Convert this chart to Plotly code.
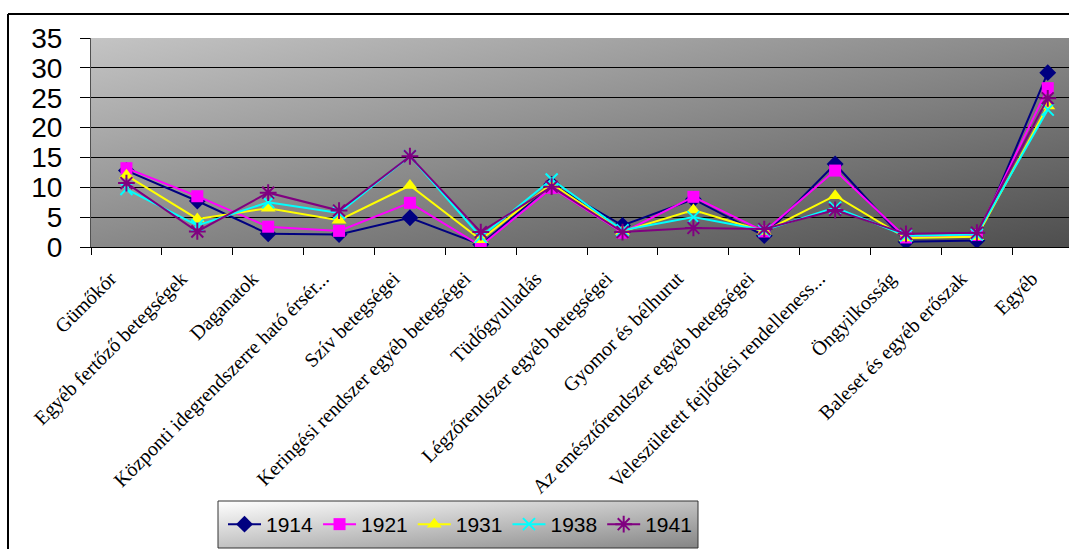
import base64
import plotly.graph_objects as go

# Causes of death (share, %) by year
categories = [
    "Gümőkór",
    "Egyéb fertőző betegségek",
    "Daganatok",
    "Központi idegrendszerre ható érsér...",
    "Szív betegségei",
    "Keringési rendszer egyéb betegségei",
    "Tüdőgyulladás",
    "Légzőrendszer egyéb betegségei",
    "Gyomor és bélhurut",
    "Az emésztőrendszer egyéb betegségei",
    "Veleszületett fejlődési rendelleness...",
    "Öngyilkosság",
    "Baleset és egyéb erőszak",
    "Egyéb",
]

years = ["1914", "1921", "1931", "1938", "1941"]

v1914 = [12.8, 7.7, 2.2, 2.1, 4.9, 0.4, 10.5, 3.6, 8.0, 1.9, 13.9, 0.9, 1.1, 29.2]
v1921 = [13.2, 8.5, 3.4, 2.7, 7.4, 0.2, 9.9, 2.4, 8.4, 2.6, 12.8, 1.6, 2.0, 26.6]
v1931 = [12.0, 4.7, 6.5, 4.5, 10.3, 1.2, 10.6, 2.6, 6.2, 2.6, 8.6, 1.5, 1.7, 23.6]
v1938 = [9.7, 3.6, 7.5, 5.7, 15.2, 1.7, 11.3, 2.8, 5.0, 2.8, 6.6, 1.9, 2.1, 23.0]
v1941 = [10.7, 2.6, 9.1, 6.1, 15.2, 2.5, 10.1, 2.5, 3.2, 3.0, 6.2, 2.2, 2.4, 24.9]

y_ticks = [0, 5, 10, 15, 20, 25, 30, 35]

series = [v1914, v1921, v1931, v1938, v1941]
colors = ["#000080", "#FF00FF", "#FFFF00", "#00FFFF", "#800080"]
symbols = ["diamond", "square", "triangle-up", "x-thin-open", "asterisk-open"]
sizes = [13, 12, 13, 12, 14]


def svg_gradient(c0, c1, x2="1", y2="1"):
    svg = (
        "<svg xmlns='http://www.w3.org/2000/svg' width='200' height='100' "
        "viewBox='0 0 200 100' preserveAspectRatio='none'>"
        "<defs><linearGradient id='g' x1='0' y1='0' x2='%s' y2='%s'>"
        "<stop offset='0' stop-color='%s'/><stop offset='1' stop-color='%s'/>"
        "</linearGradient></defs>"
        "<rect width='200' height='100' fill='url(#g)'/></svg>" % (x2, y2, c0, c1)
    )
    return "data:image/svg+xml;base64," + base64.b64encode(svg.encode()).decode()


W, H = 1069, 549
L, T, B = 91, 38, 302
plot_h = H - T - B
plot_w = W - L


def px_x(px):
    return (px - L) / plot_w


def px_y(py):
    return (H - B - py) / plot_h


fig = go.Figure()
for name, vals, col, sym, sz in zip(years, series, colors, symbols, sizes):
    fig.add_trace(go.Scatter(
        x=categories, y=vals, name=name, mode="lines+markers",
        line=dict(color=col, width=2),
        marker=dict(symbol=sym, size=sz, color=col,
                    line=dict(color=col, width=2 if "open" in sym else 0)),
    ))

# legend frame (pixels)
LX0, LX1, LY0, LY1 = 218, 698, 501, 548

fig.update_layout(
    width=W, height=H,
    margin=dict(l=L, r=0, t=T, b=B, autoexpand=False),
    paper_bgcolor="white",
    plot_bgcolor="rgba(0,0,0,0)",
    showlegend=True,
    legend=dict(
        orientation="h", x=px_x(LX0 + 5), xanchor="left",
        y=px_y((LY0 + LY1) / 2), yanchor="middle",
        bgcolor="rgba(0,0,0,0)", borderwidth=0,
        font=dict(family="Liberation Sans, Arial", size=21, color="black"),
        itemwidth=33,
        traceorder="normal",
    ),
    xaxis=dict(
        type="category", range=[-0.5, -0.5 + plot_w / 70.87],
        tickangle=-45, ticks="outside", ticklen=7, tickcolor="black",
        tickson="boundaries", showline=True, linecolor="black", linewidth=1,
        showgrid=False, automargin=False,
        ticklabelshift=-16, ticklabelstandoff=11,
        tickfont=dict(family="Liberation Serif, Times New Roman", size=20, color="black"),
    ),
    yaxis=dict(
        range=[0, 35], tickvals=y_ticks, ticks="outside", ticklen=10, tickcolor="black",
        showline=True, linecolor="#505050", linewidth=1,
        showgrid=True, gridcolor="black", gridwidth=1, zeroline=False,
        ticklabelstandoff=12, automargin=False,
        tickfont=dict(family="Liberation Sans, Arial", size=28, color="black"),
    ),
    images=[
        dict(source=svg_gradient("#c4c4c4", "#4e4e4e"), xref="paper", yref="paper",
             x=0, y=1, sizex=1, sizey=1, sizing="stretch", layer="below"),
        dict(source=svg_gradient("#ffffff", "#858585"), xref="paper", yref="paper",
             x=px_x(LX0), y=px_y(LY0), sizex=px_x(LX1) - px_x(LX0),
             sizey=px_y(LY0) - px_y(LY1), sizing="stretch", layer="below"),
    ],
    shapes=[
        dict(type="line", xref="paper", yref="paper", x0=px_x(8), x1=px_x(W + 5),
             y0=px_y(14), y1=px_y(14), line=dict(color="black", width=2)),
        dict(type="line", xref="paper", yref="paper", x0=px_x(8), x1=px_x(8),
             y0=px_y(14), y1=px_y(H + 5), line=dict(color="black", width=2)),
        dict(type="rect", xref="paper", yref="paper", x0=px_x(LX0), x1=px_x(LX1),
             y0=px_y(LY0), y1=px_y(LY1), line=dict(color="#333333", width=1)),
    ],
)

fig.write_html("out.html", config={"displayModeBar": False})
